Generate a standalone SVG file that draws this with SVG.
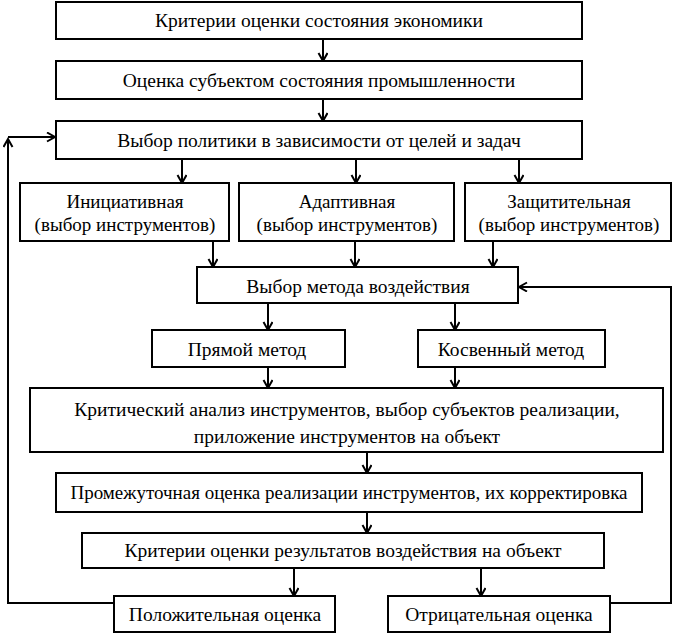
<svg xmlns="http://www.w3.org/2000/svg" width="674" height="633" viewBox="0 0 674 633">
<style>
.b{fill:#fff;stroke:#000;stroke-width:2}
.t{font-size:19.5px;fill:#000;text-anchor:middle;dominant-baseline:central}
.s{font-size:19px}
.c{fill:none;stroke:#000;stroke-width:2}
</style>
<defs>
<marker id="a" markerWidth="12" markerHeight="12" refX="10" refY="5" orient="auto" markerUnits="userSpaceOnUse">
<path d="M2,0.5 L10,5 L2,9.5" fill="none" stroke="#000" stroke-width="2"/>
</marker>
</defs>
<rect width="674" height="633" fill="#fff"/>
<g id="connectors">
<path class="c" d="M323,38 V61" marker-end="url(#a)"/>
<path class="c" d="M323,99 V121" marker-end="url(#a)"/>
<path class="c" d="M182,159 V183" marker-end="url(#a)"/>
<path class="c" d="M356,159 V183" marker-end="url(#a)"/>
<path class="c" d="M519,159 V183" marker-end="url(#a)"/>
<path class="c" d="M213,241 V267" marker-end="url(#a)"/>
<path class="c" d="M355,241 V267" marker-end="url(#a)"/>
<path class="c" d="M493,241 V267" marker-end="url(#a)"/>
<path class="c" d="M268,303 V330" marker-end="url(#a)"/>
<path class="c" d="M455,303 V330" marker-end="url(#a)"/>
<path class="c" d="M268,367 V388" marker-end="url(#a)"/>
<path class="c" d="M455,367 V388" marker-end="url(#a)"/>
<path class="c" d="M367,452 V473" marker-end="url(#a)"/>
<path class="c" d="M367,512 V533" marker-end="url(#a)"/>
<path class="c" d="M294,568 V596" marker-end="url(#a)"/>
<path class="c" d="M481,568 V596" marker-end="url(#a)"/>
<path class="c" d="M114,603 H8 V139" marker-end="url(#a)"/>
<path class="c" d="M8,137 H55" marker-end="url(#a)"/>
<path class="c" d="M610,603 H671 V287 H519" marker-end="url(#a)"/>
</g>
<g font-family="Liberation Serif, Times New Roman, serif">
<g id="n1"><rect class="b" x="56" y="2" width="526" height="37"/><text class="t" x="319" y="20">Критерии оценки состояния экономики</text></g>
<g id="n2"><rect class="b" x="56" y="61" width="526" height="38"/><text class="t" x="319" y="80">Оценка субъектом состояния промышленности</text></g>
<g id="n3"><rect class="b" x="56" y="121" width="526" height="38"/><text class="t" x="319" y="140">Выбор политики в зависимости от целей и задач</text></g>
<g id="n4"><rect class="b" x="20" y="183" width="209" height="58"/><text class="t s" x="125" y="201">Инициативная</text><text class="t s" x="125" y="224">(выбор инструментов)</text></g>
<g id="n5"><rect class="b" x="239" y="183" width="215" height="58"/><text class="t s" x="347" y="201">Адаптивная</text><text class="t s" x="347" y="224">(выбор инструментов)</text></g>
<g id="n6"><rect class="b" x="465" y="183" width="206" height="58"/><text class="t s" x="569" y="201">Защитительная</text><text class="t s" x="569" y="224">(выбор инструментов)</text></g>
<g id="n7"><rect class="b" x="197" y="267" width="321" height="36"/><text class="t" x="358" y="286">Выбор метода воздействия</text></g>
<g id="n8"><rect class="b" x="152" y="330" width="193" height="37"/><text class="t" x="247" y="349">Прямой метод</text></g>
<g id="n9"><rect class="b" x="418" y="330" width="187" height="37"/><text class="t" x="511" y="349">Косвенный метод</text></g>
<g id="n10"><rect class="b" x="30" y="388" width="633" height="64"/><text class="t" x="347" y="409">Критический анализ инструментов, выбор субъектов реализации,</text><text class="t" x="347" y="436">приложение инструментов на объект</text></g>
<g id="n11"><rect class="b" x="56" y="473" width="586" height="39"/><text class="t s" x="349" y="492">Промежуточная оценка реализации инструментов, их корректировка</text></g>
<g id="n12"><rect class="b" x="82" y="533" width="522" height="35"/><text class="t" x="343" y="550">Критерии оценки результатов воздействия на объект</text></g>
<g id="n13"><rect class="b" x="114" y="596" width="221" height="36"/><text class="t" x="225" y="614">Положительная оценка</text></g>
<g id="n14"><rect class="b" x="388" y="596" width="222" height="36"/><text class="t" x="499" y="614">Отрицательная оценка</text></g>
</g>
</svg>
